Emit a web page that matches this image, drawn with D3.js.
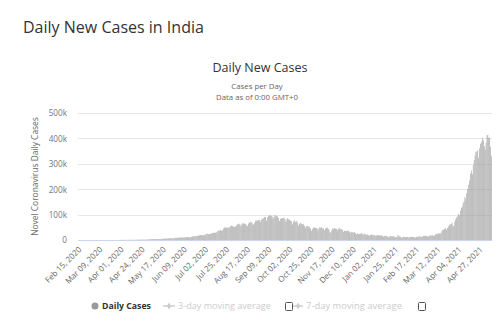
<!DOCTYPE html>
<html><head><meta charset="utf-8">
<script src="https://cdn.jsdelivr.net/npm/d3@7"></script>
<style>body{margin:0;background:#fff}svg{display:block}</style>
</head><body>
<svg id="c" width="500" height="327"></svg>
<script>
// ---- data (daily new cases, India) ----
const startDate = "2020-02-15";
const feb2020 = [0,0,0,0,0,0,0,0,0,0,0,0,0,0,0];
const mar2020 = [0,2,1,22,2,1,3,5,4,13,6,11,9,20,11,6,23,14,28,44,63,80,67,103,66,77,160,96,107,227,146];
const apr2020 = [601,545,478,578,693,354,773,909,591,896,758,1248,1034,1074,1200,1090,1007,987,1400,1486,1299,1200,1752,1684,1835,1607,1561,1873,1702,1801];
const may2020 = [2396,2564,2952,3656,2971,3587,3364,3344,4353,3607,3524,3525,3763,3942,3787,4864,5050,5242,4970,5611,5609,6088,6654,6767,6977,6535,6387,6566,7466,8380,8392];
const jun2020 = [8171,8909,9633,9851,9889,9887,9971,9983,9987,11128,10956,11458,11929,11502,10667,10974,12881,13586,14516,15413,14821,14933,15968,16922,17296,18552,19906,19459,18522,18653];
const jul2020 = [19148,20903,22771,24850,24248,23932,22252,24879,26506,27114,28637,28701,28498,29429,32695,34956,38902,34884,40425,37148,37724,45720,49310,48916,48661,49931,47703,48513,52123,55079,57118];
const aug2020 = [54735,52972,52050,52509,56282,62538,61537,64399,62064,53601,60963,66999,64553,65002,63490,57981,55079,64531,69652,68898,69878,70488,61408,60975,67151,75760,77266,76472,78761,78512,69921];
const sep2020 = [78357,83883,83341,86432,90632,90802,75809,89706,95735,96551,97570,94372,92071,83809,90123,97894,96424,93337,92605,86961,75083,83347,86508,85362,86052,88600,82170,70589,80472,86821];
const oct2020 = [81484,79476,75829,74442,61267,72049,78524,70496,73272,74383,66732,55342,63509,67708,63371,62212,61871,55722,46790,54044,55839,54366,53370,50129,45149,36469,43893,49881,48648,48268,46963];
const nov2020 = [45231,38310,46253,50210,47638,50356,45674,45903,38073,44281,47905,48648,44879,41100,30548,29164,38617,45576,44739,46232,45209,44059,37975,44376,46790,44489,43082,41810,38772,31118];
const dec2020 = [36604,35551,35668,36595,36652,32981,26567,32080,31521,29398,30006,30254,27071,22065,26382,24010,22889,25153,25152,26624,19556,23950,24712,23068,18732,22273,20021,16432,20550,21822,20035];
const jan2021 = [19078,20036,18177,16504,18088,20346,18139,18222,18645,18312,16311,12584,15968,16946,15590,15158,13788,10064,13823,15244,14545,14256,14849,13203,9102,12689,11666,18855,18012,13083,13052];
const feb2021 = [8635,11039,12899,11024,11713,12059,11831,12059,9110,11067,12923,12143,12194,11649,11395,9121,11610,12881,13193,13993,14264,14199,10584,13742,16738,16577,16488,16752];
const mar2021 = [12286,14989,17407,16838,18327,18711,18599,15388,17921,22854,23285,24882,25320,26291,24492,28903,35871,39726,40953,43846,46951,40715,47262,53476,59118,62258,62714,68020,56211,53480,72330];
const apr2021 = [81466,89129,93249,103558,96982,115736,126789,131968,145384,152879,168912,161736,184372,200739,217353,234692,261394,273810,259167,295041,314644,332503,346786,349313,352991,323023,360960,379308,386829,402014];
const may2021 = [392562,370059,355828,382691,412618,414280,401078,403405,366494,329942];
const dailyCases = [].concat(feb2020,mar2020,apr2020,may2020,jun2020,jul2020,aug2020,sep2020,oct2020,nov2020,dec2020,jan2021,feb2021,mar2021,apr2021,may2021);
const yTickValues = [0,100000,200000,300000,400000,500000];
const yTickLabels = ["0","100k","200k","300k","400k","500k"];
const xTickLabels = ["Feb 15, 2020","Mar 09, 2020","Apr 01, 2020","Apr 24, 2020","May 17, 2020","Jun 09, 2020","Jul 02, 2020","Jul 25, 2020","Aug 17, 2020","Sep 09, 2020","Oct 02, 2020","Oct 25, 2020","Nov 17, 2020","Dec 10, 2020","Jan 02, 2021","Jan 25, 2021","Feb 17, 2021","Mar 12, 2021","Apr 04, 2021","Apr 27, 2021"];
const legendItems = ["Daily Cases","3-day moving average","7-day moving average"];

// categories: one per day
const fmt = d3.timeFormat("%b %d, %Y");
const d0 = d3.timeParse("%Y-%m-%d")(startDate);
const categories = dailyCases.map((v,i)=>fmt(d3.timeDay.offset(d0,i)));

const svg = d3.select("#c");
const FONT = "'Open Sans','DejaVu Sans',sans-serif";
function fit(t, w){ const n=t.node(); const cur=n.getComputedTextLength(); const fs=parseFloat(t.attr("font-size")); t.attr("font-size", (fs*w/cur).toFixed(2)); return t; }

// headings
fit(svg.append("text").attr("x",23).attr("y",33).attr("font-family",FONT).attr("font-size",17).attr("fill","#333").text("Daily New Cases in India"),181);
fit(svg.append("text").attr("x",260).attr("y",72).attr("text-anchor","middle").attr("font-family",FONT).attr("font-size",12).attr("fill","#333").text("Daily New Cases"),95);
svg.append("text").attr("x",257).attr("y",89).attr("text-anchor","middle").attr("font-family",FONT).attr("font-size",7.8).attr("fill","#666").text("Cases per Day");
svg.append("text").attr("x",257).attr("y",99.5).attr("text-anchor","middle").attr("font-family",FONT).attr("font-size",7.8).attr("fill","#666").text("Data as of 0:00 GMT+0");

const L=78,R=492,T=113,B=240;
const x = d3.scaleBand().domain(categories).range([L,R]).paddingInner(0.35).paddingOuter(0.15);
const y = d3.scaleLinear().domain([0,500000]).range([B,T]);

// grid
svg.append("g").selectAll("line").data(yTickValues).join("line")
  .attr("x1",L).attr("x2",R).attr("y1",d=>Math.round(y(d))+0.5).attr("y2",d=>Math.round(y(d))+0.5)
  .attr("stroke","#e6e6e6").attr("stroke-width",1);

// y axis labels
const ya = svg.append("g").attr("transform",`translate(${L-8},0)`)
  .call(d3.axisLeft(y).tickValues(yTickValues).tickFormat((d,i)=>yTickLabels[i]).tickSize(0));
ya.select(".domain").remove();
ya.selectAll("text").attr("font-family",FONT).attr("font-size",8.2).attr("fill","#777").attr("dx",0).attr("dy","0.35em");

// y title
fit(svg.append("text").attr("transform",`translate(38,${(T+B)/2}) rotate(-90)`).attr("text-anchor","middle")
  .attr("font-family",FONT).attr("font-size",8.5).attr("fill","#666").text("Novel Coronavirus Daily Cases"),119);

// bars
svg.append("g").selectAll("rect").data(dailyCases).join("rect")
  .attr("x",(d,i)=>x(categories[i])).attr("width",x.bandwidth())
  .attr("y",d=>y(d)).attr("height",d=>B-y(d)).attr("fill","#999");

// x axis
svg.append("line").attr("x1",L).attr("x2",R).attr("y1",B+0.5).attr("y2",B+0.5).attr("stroke","#ccd6eb");
const xa = svg.append("g").attr("transform",`translate(0,${B})`)
  .call(d3.axisBottom(x).tickValues(xTickLabels).tickSize(0));
xa.select(".domain").remove();
xa.selectAll("text").attr("font-family",FONT).attr("font-size",8).attr("fill","#666")
  .attr("text-anchor","end").attr("dy",0).attr("y",0).attr("x",0)
  .attr("transform",`translate(${x.bandwidth()/2+3},10) rotate(-45)`);

// legend
const lg = svg.append("g");
const ly = 306;
lg.append("circle").attr("cx",95).attr("cy",ly).attr("r",3.5).attr("fill","#999");
lg.append("text").attr("x",102).attr("y",ly+3).attr("font-family",FONT).attr("font-weight","bold").attr("font-size",8.5).attr("fill","#333").text(legendItems[0]).call(t=>fit(t,49));
lg.append("line").attr("x1",163).attr("x2",175).attr("y1",ly).attr("y2",ly).attr("stroke","#ccc").attr("stroke-width",1.5);
lg.append("path").attr("d",d3.symbol(d3.symbolDiamond,14)()).attr("transform",`translate(169,${ly})`).attr("fill","#ccc");
lg.append("text").attr("x",178).attr("y",ly+3).attr("font-family",FONT).attr("font-size",8.5).attr("fill","#ccc").text(legendItems[1]).call(t=>fit(t,93));
lg.append("rect").attr("x",285.5).attr("y",302.5).attr("width",7).attr("height",8).attr("rx",1).attr("fill","#fff").attr("stroke","#555");
lg.append("line").attr("x1",293).attr("x2",303).attr("y1",ly).attr("y2",ly).attr("stroke","#ccc").attr("stroke-width",1.5);
lg.append("path").attr("d",d3.symbol(d3.symbolDiamond,14)()).attr("transform",`translate(298,${ly})`).attr("fill","#ccc");
lg.append("text").attr("x",306).attr("y",ly+3).attr("font-family",FONT).attr("font-size",8.5).attr("fill","#ccc").text(legendItems[2]).call(t=>fit(t,96));
lg.append("rect").attr("x",418.5).attr("y",302.5).attr("width",7).attr("height",8).attr("rx",1).attr("fill","#fff").attr("stroke","#555");
</script>
</body></html>
